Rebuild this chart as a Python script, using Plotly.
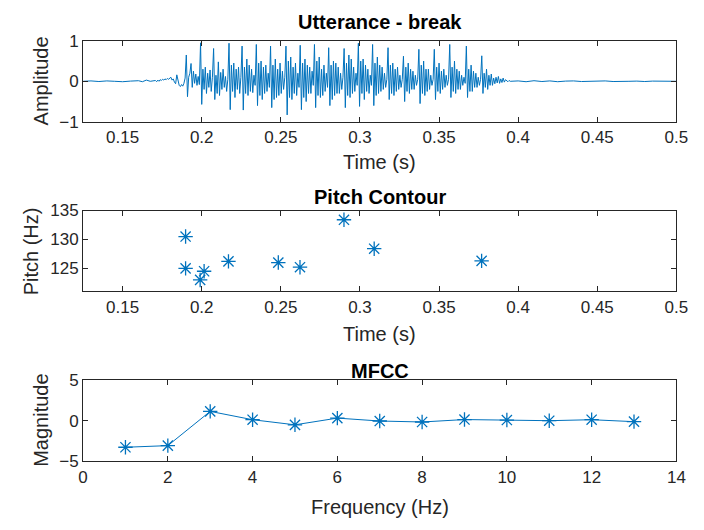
import plotly.graph_objects as go

# ---------------- data ----------------
# Utterance waveform: quiet lead-in (explicit times)
pre_t = [0.125, 0.130, 0.135, 0.140, 0.145, 0.150, 0.155, 0.160, 0.1625, 0.165, 0.1675]
pre_amp = [0.0, 0.01, -0.005, 0.01, 0.0, -0.01, 0.005, 0.015, -0.01, 0.03, 0.0]

# voiced segment sampled uniformly from 0.170 s with 0.75 ms step
voiced_t0 = 0.170
voiced_dt = 0.00075
voiced_amp = [
    0.01, 0.02, -0.01, 0.03, 0.00, 0.04, 0.02, 0.05, 0.03, 0.06, 0.04, 0.07,
    0.05, 0.08, 0.10, 0.03, 0.06, -0.02, -0.06, 0.16, 0.02, -0.10, -0.13, -0.08,
    -0.12, -0.05, 0.08,
    0.65, -0.38, 0.10, 0.20, 0.44, -0.15, 0.25, -0.05, 0.18, -0.10, 0.12, -0.08,
    0.95, -0.57, 0.30, -0.20, 0.35, -0.30, 0.20, -0.15, 0.28, -0.25, 0.10,
    0.81, -0.45, 0.15, -0.30, 0.48, -0.35, 0.22, -0.20, 0.30, -0.15, 0.12, -0.25, 0.05,
    0.94, -0.70, 0.40, -0.25, 0.45, -0.40, 0.30, -0.20, 0.35, -0.30, 0.10,
    0.87, -0.71, 0.35, -0.30, 0.55, -0.35, 0.40, -0.25, 0.30, -0.28, 0.15, -0.10,
    0.91, -0.60, 0.45, -0.35, 0.50, -0.45, 0.35, -0.30, 0.40, -0.25, 0.20, -0.15,
    0.87, -0.65, 0.40, -0.45, 0.55, -0.40, 0.30, -0.35, 0.45, -0.30, 0.25, -0.20, 0.10,
    0.87, -0.83, 0.50, -0.40, 0.60, -0.45, 0.35, -0.30, 0.45, -0.35, 0.20, -0.15,
    0.89, -0.70, 0.45, -0.40, 0.55, -0.50, 0.40, -0.30, 0.35, -0.30, 0.25, -0.10,
    0.91, -0.65, 0.50, -0.35, 0.60, -0.40, 0.30, -0.35, 0.40, -0.25, 0.20, -0.15,
    0.83, -0.60, 0.40, -0.45, 0.50, -0.35, 0.45, -0.30, 0.35, -0.30, 0.20, -0.20, 0.10,
    0.81, -0.65, 0.45, -0.35, 0.65, -0.40, 0.55, -0.30, 0.35, -0.25, 0.20, -0.10,
    0.94, -0.62, 0.50, -0.30, 0.55, -0.45, 0.40, -0.25, 0.30, -0.30, 0.15, -0.10,
    0.91, -0.60, 0.45, -0.35, 0.60, -0.30, 0.40, -0.25, 0.35, -0.20, 0.20, -0.15, 0.05,
    0.83, -0.45, 0.40, -0.30, 0.45, -0.35, 0.30, -0.25, 0.35, -0.20, 0.15, -0.15, 0.05,
    0.62, -0.50, 0.35, -0.25, 0.45, -0.30, 0.30, -0.20, 0.25, -0.20, 0.15, -0.10, 0.05,
    0.79, -0.55, 0.40, -0.30, 0.50, -0.35, 0.30, -0.25, 0.30, -0.20, 0.15, -0.10, 0.05,
    0.79, -0.45, 0.35, -0.25, 0.45, -0.30, 0.25, -0.20, 0.30, -0.15, 0.15, -0.10, 0.05,
    0.91, -0.40, 0.35, -0.25, 0.50, -0.30, 0.30, -0.20, 0.25, -0.20, 0.15, -0.10, 0.10, -0.05,
    0.87, -0.40, 0.30, -0.25, 0.40, -0.25, 0.25, -0.15, 0.20, -0.15, 0.10, -0.10, 0.05,
    0.63, -0.30, 0.20, -0.15, 0.30, -0.20, 0.15, -0.10, 0.18, -0.10, 0.08, -0.06, 0.10, -0.04,
    0.12, -0.05, 0.06, -0.03, 0.08, -0.02, 0.04, 0.02, -0.01, 0.02, 0.0,
]

# quiet tail (explicit times)
post_t = [0.400, 0.405, 0.410, 0.415, 0.420, 0.425, 0.430, 0.435, 0.440, 0.445,
          0.450, 0.455, 0.460, 0.465, 0.470, 0.475, 0.480, 0.485, 0.490, 0.495, 0.500]
post_amp = [0.01, -0.01, 0.015, -0.005, 0.01, -0.01, 0.005, 0.01, -0.005, 0.005,
            0.0, 0.01, -0.005, 0.005, 0.0, 0.005, -0.005, 0.005, 0.0, 0.005, 0.0]

# Pitch contour
pitch_t = [0.1898, 0.1898, 0.2015, 0.1990, 0.2169, 0.2484, 0.2621, 0.2899, 0.3090, 0.3769]
pitch_hz = [130.5, 125.0, 124.5, 123.0, 126.2, 126.0, 125.2, 133.4, 128.4, 126.3]

# MFCC
mfcc_idx = [1, 2, 3, 4, 5, 6, 7, 8, 9, 10, 11, 12, 13]
mfcc_val = [-3.28, -3.08, 1.15, 0.12, -0.51, 0.32, -0.04, -0.16, 0.14, 0.08, 0.0, 0.12, -0.12]

time_ticks = [0.15, 0.2, 0.25, 0.3, 0.35, 0.4, 0.45, 0.5]
time_labels = ["0.15", "0.2", "0.25", "0.3", "0.35", "0.4", "0.45", "0.5"]

# ---------------- figure ----------------
W, H = 704, 530
BLUE = "#0072BD"
AX = "#262626"
FONT = "Liberation Sans, Arial, Helvetica, sans-serif"

wave_t = pre_t + [voiced_t0 + i * voiced_dt for i in range(len(voiced_amp))] + post_t
wave_a = pre_amp + voiced_amp + post_amp

fig = go.Figure()
fig.add_trace(go.Scatter(x=wave_t, y=wave_a, mode="lines",
                         line=dict(color=BLUE, width=1), xaxis="x", yaxis="y"))
fig.add_trace(go.Scatter(x=pitch_t, y=pitch_hz, mode="markers",
                         marker=dict(symbol="asterisk-open", size=12, color=BLUE,
                                     line=dict(color=BLUE, width=1.3)),
                         xaxis="x2", yaxis="y2"))
fig.add_trace(go.Scatter(x=mfcc_idx, y=mfcc_val, mode="lines+markers",
                         line=dict(color=BLUE, width=1),
                         marker=dict(symbol="asterisk-open", size=12, color=BLUE,
                                     line=dict(color=BLUE, width=1.3)),
                         xaxis="x3", yaxis="y3"))

def px_x(p):
    return p / W

def px_y(p):
    return 1 - p / H

left, right = 80, 688
boxes = [(33, 117), (209, 293), (385, 469)]

common = dict(showline=True, linecolor=AX, linewidth=1, mirror="ticks",
              ticks="inside", ticklen=5, tickcolor=AX, tickwidth=1,
              showgrid=False, zeroline=False,
              tickfont=dict(family=FONT, size=17, color=AX))

fig.update_layout(
    width=W, height=H, margin=dict(l=0, r=0, t=0, b=0),
    paper_bgcolor="white", plot_bgcolor="white", showlegend=False,
    xaxis=dict(domain=[px_x(left), px_x(right)], range=[0.125, 0.5],
               tickvals=time_ticks, ticktext=time_labels, anchor="y", **common),
    yaxis=dict(domain=[px_y(boxes[0][1]), px_y(boxes[0][0])], range=[-1, 1],
               tickvals=[-1, 0, 1], anchor="x", **common),
    xaxis2=dict(domain=[px_x(left), px_x(right)], range=[0.125, 0.5],
                tickvals=time_ticks, ticktext=time_labels, anchor="y2", **common),
    yaxis2=dict(domain=[px_y(boxes[1][1]), px_y(boxes[1][0])], range=[121, 135],
                tickvals=[125, 130, 135], anchor="x2", **common),
    xaxis3=dict(domain=[px_x(left), px_x(right)], range=[0, 14],
                tickvals=[0, 2, 4, 6, 8, 10, 12, 14], anchor="y3", **common),
    yaxis3=dict(domain=[px_y(boxes[2][1]), px_y(boxes[2][0])], range=[-5, 5],
                tickvals=[-5, 0, 5], anchor="x3", **common),
)

cx = (left + right) / 2
texts = [
    ("Utterance - break", cx, 14, 0, True),
    ("Time (s)", cx, 159, 0, False),
    ("Amplitude", 37, (boxes[0][0] + boxes[0][1]) / 2, -90, False),
    ("Pitch (Hz)", 27, (boxes[1][0] + boxes[1][1]) / 2, -90, False),
    ("Pitch Contour", cx, 195, 0, True),
    ("Time (s)", cx, 337, 0, False),
    ("MFCC", cx, 375, 0, True),
    ("Frequency (Hz)", cx, 516, 0, False),
    ("Magnitude", 37, (boxes[2][0] + boxes[2][1]) / 2, -90, False),
]
for txt, x, y, ang, bold in texts:
    fig.add_annotation(text=f"<b>{txt}</b>" if bold else txt,
                       x=px_x(x), y=px_y(y), xref="paper", yref="paper",
                       showarrow=False, textangle=ang,
                       xanchor="center", yanchor="middle",
                       font=dict(family=FONT, size=20, color="black" if bold else AX))

fig.write_html("out.html")
